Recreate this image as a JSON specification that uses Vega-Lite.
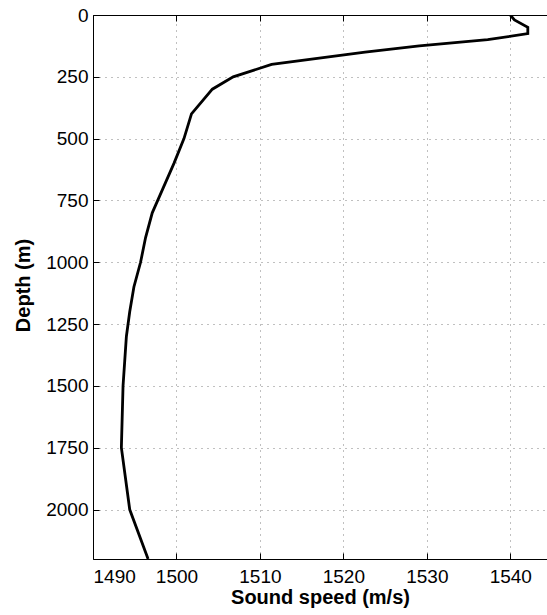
{
  "$schema": "https://vega.github.io/schema/vega-lite/v6.json",
  "width": 454,
  "height": 544,
  "autosize": {"type": "none"},
  "padding": {"left": 93, "top": 15, "right": 0, "bottom": 56},
  "background": "white",
  "config": {
    "view": {"stroke": null},
    "font": "Liberation Sans",
    "axis": {
      "domainColor": "black",
      "domainWidth": 1,
      "tickColor": "black",
      "tickSize": -6,
      "tickWidth": 1,
      "labelFont": "Liberation Sans",
      "labelFontSize": 19,
      "labelColor": "black",
      "titleFont": "Liberation Sans",
      "titleFontSize": 20,
      "titleFontWeight": "bold",
      "titleColor": "black",
      "gridColor": "#808080",
      "gridDash": [1, 5],
      "gridWidth": 1
    }
  },
  "data": {
    "values": [
      {"depth": 0, "speed": 1540.0},
      {"depth": 20, "speed": 1540.5},
      {"depth": 50, "speed": 1542.1},
      {"depth": 75, "speed": 1542.1},
      {"depth": 100, "speed": 1537.3},
      {"depth": 125, "speed": 1529.1},
      {"depth": 150, "speed": 1522.6},
      {"depth": 200, "speed": 1511.4},
      {"depth": 250, "speed": 1506.8},
      {"depth": 300, "speed": 1504.3},
      {"depth": 400, "speed": 1501.8},
      {"depth": 500, "speed": 1500.9},
      {"depth": 600, "speed": 1499.7},
      {"depth": 700, "speed": 1498.4},
      {"depth": 800, "speed": 1497.1},
      {"depth": 900, "speed": 1496.3},
      {"depth": 1000, "speed": 1495.7},
      {"depth": 1100, "speed": 1494.9},
      {"depth": 1200, "speed": 1494.4},
      {"depth": 1300, "speed": 1494.0},
      {"depth": 1400, "speed": 1493.8},
      {"depth": 1500, "speed": 1493.6},
      {"depth": 1750, "speed": 1493.4},
      {"depth": 2000, "speed": 1494.4},
      {"depth": 2200, "speed": 1496.6}
    ]
  },
  "layer": [
    {
      "mark": {"type": "line", "color": "black", "strokeWidth": 2.8, "clip": true},
      "encoding": {
        "x": {
          "field": "speed",
          "type": "quantitative",
          "scale": {"domain": [1490, 1544.4], "nice": false, "zero": false},
          "axis": {
            "orient": "bottom",
            "values": [1490, 1500, 1510, 1520, 1530, 1540],
            "format": "d",
            "grid": true,
            "labelPadding": 14,
            "title": "Sound speed (m/s)",
            "titleX": 227,
            "titleY": 38,
            "titleAlign": "center",
            "titleBaseline": "middle"
          }
        },
        "y": {
          "field": "depth",
          "type": "quantitative",
          "scale": {"domain": [0, 2200], "reverse": true, "nice": false, "zero": false},
          "axis": {
            "orient": "left",
            "values": [0, 250, 500, 750, 1000, 1250, 1500, 1750, 2000],
            "format": "d",
            "grid": true,
            "labelPadding": 11,
            "title": "Depth (m)",
            "titleX": -70,
            "titleY": 270,
            "titleAngle": -90,
            "titleAlign": "center",
            "titleBaseline": "middle"
          }
        },
        "order": {"field": "depth", "type": "quantitative"}
      }
    },
    {
      "mark": {"type": "line", "opacity": 0, "clip": true},
      "encoding": {
        "x": {
          "field": "speed",
          "type": "quantitative",
          "scale": {"domain": [1490, 1544.4], "nice": false, "zero": false},
          "axis": {
            "orient": "top",
            "values": [1490, 1500, 1510, 1520, 1530, 1540],
            "grid": false,
            "labels": false,
            "title": null
          }
        },
        "y": {
          "field": "depth",
          "type": "quantitative",
          "scale": {"domain": [0, 2200], "reverse": true, "nice": false, "zero": false},
          "axis": null
        },
        "order": {"field": "depth", "type": "quantitative"}
      }
    }
  ],
  "resolve": {"axis": {"x": "independent", "y": "independent"}}
}
